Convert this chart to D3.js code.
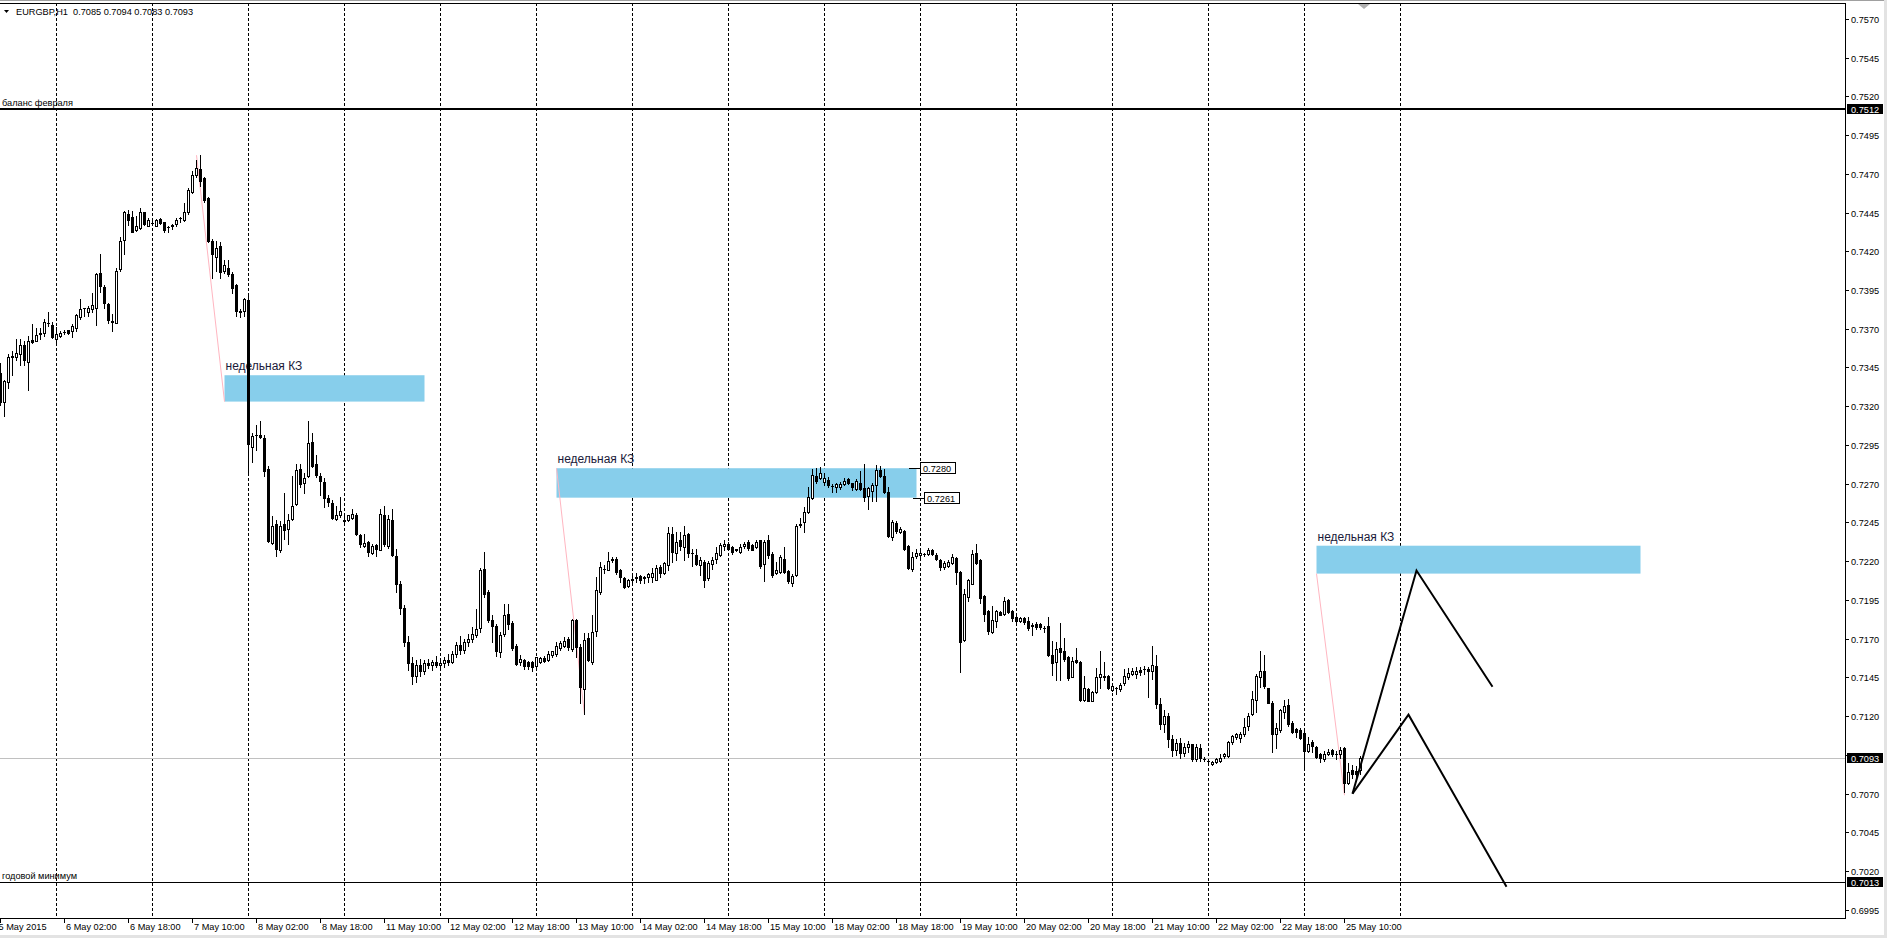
<!DOCTYPE html>
<html>
<head>
<meta charset="utf-8">
<script src="https://cdn.jsdelivr.net/npm/d3@7"></script>
<style>
  html, body { margin: 0; padding: 0; background: #fff; overflow: hidden; }
  svg { display: block; }
  text { font-family: "Liberation Sans", Arial, sans-serif; font-size: 9.2px; fill: #000; }
</style>
</head>
<body>
<svg id="chart" width="1887" height="938"></svg>
<script>
// ===============================
// data (EURGBP H1, 5 May 10:00 .. 25 May 14:00), price x 10000 : [open, high, low, close]
// ===============================
const ohlc = [
  [7341.5,7348,7321,7323],[7323,7337,7313.4,7336],[7335.4,7354,7331.8,7351.8],[7352,7355.5,7340.4,7352.5],
  [7352,7363.5,7350,7354.4],[7353.4,7363.5,7346.9,7359.8],[7359.2,7362,7346.9,7349.7],[7348.4,7365.2,7330.3,7362],
  [7363,7372.8,7360.9,7361.6],[7362.4,7370.6,7362,7365.7],[7366.8,7370.6,7363.5,7367.2],[7367.4,7376,7365.2,7374.3],
  [7374,7380.8,7371.7,7373.8],[7372.6,7374.3,7364.1,7364.8],[7363.5,7371,7361.3,7366.7],[7365.2,7368.5,7364.8,7367],
  [7367.6,7369.5,7366.3,7368],[7368.9,7369.5,7366.3,7367.2],[7368.5,7372.8,7364.8,7371.7],[7370.6,7379.3,7368.5,7378.6],
  [7377.7,7389,7376,7382.9],[7383.1,7383.6,7378.2,7383.5],[7381,7384.7,7378.2,7383.6],[7382.5,7392.9,7381,7385.3],
  [7383.6,7405.8,7372.1,7405.2],[7405.8,7418.1,7393.7,7397.6],[7397,7398,7383.6,7386.4],[7385.7,7386.8,7373.9,7375.6],
  [7374.5,7379.3,7368.5,7374.7],[7373.9,7409.5,7373.4,7407.3],[7408.4,7428.9,7407.3,7426.8],[7427.4,7446.2,7418.1,7445.1],
  [7444,7446.8,7436.9,7440.4],[7441.9,7446.2,7432.2,7432.6],[7433.9,7443,7433.2,7436],[7434.7,7447.7,7434.3,7445.5],
  [7445.1,7445.5,7436.9,7437.6],[7436.5,7441.2,7436,7440.1],[7438.2,7440.8,7436.9,7438.4],[7436.5,7440.8,7436,7440.1],
  [7440.8,7441.2,7437.3,7438],[7438.6,7439,7432.6,7433.9],[7435.4,7436.5,7432.6,7435.6],[7436.5,7437.6,7434.3,7436.7],
  [7437.6,7441.2,7436,7440.4],[7441.5,7441.9,7438.6,7441.7],[7440.4,7451.1,7439.7,7445.1],[7445.5,7460.6,7444,7459.8],
  [7458.5,7472.1,7457.6,7469.3],[7469.3,7479.2,7467.8,7473.6],[7473.2,7481.8,7462.4,7465.6],[7467.1,7467.8,7451.6,7453.3],
  [7454.2,7454.8,7425.7,7426.8],[7426.8,7427.9,7403,7418.1],[7416.6,7426.8,7407.3,7421.8],[7423.1,7425.7,7403,7406.7],
  [7407.3,7414.4,7406.2,7411],[7409.5,7414.4,7404.1,7405.2],[7405.2,7406.7,7392.9,7396.5],[7398,7398.7,7378.2,7381.4],
  [7381,7382.9,7377.7,7381.2],[7381.4,7390,7378.2,7389.4],[7388.5,7391.1,7276.7,7295.7],[7294,7302.6,7284.2,7300.9],
  [7301.3,7308,7291.8,7301.5],[7301.5,7310.2,7299.4,7300],[7299.4,7301.5,7275,7278.4],[7279.3,7281.4,7232.4,7233.1],
  [7231.8,7249.1,7230.9,7242.6],[7243.9,7246.5,7223.2,7228.1],[7227.5,7246,7226,7242.6],[7243.9,7264.2,7234.6,7240.4],
  [7241.1,7250.3,7231.4,7246.5],[7247.5,7275,7246.5,7255.5],[7256.8,7282.7,7256.2,7278.8],[7279.3,7282.7,7268.1,7269.8],
  [7270.2,7276.7,7263.8,7273.4],[7275,7310.2,7274.1,7296.5],[7297.2,7303,7280.6,7281.4],[7282.7,7288.6,7274.5,7275.6],
  [7275,7277.1,7262.7,7271.9],[7271.3,7273.4,7255.1,7260.5],[7261.1,7262.7,7255.5,7258.3],[7257.7,7259.4,7247.5,7248.2],
  [7247.5,7255.5,7246.9,7249.7],[7249.7,7261.6,7248.6,7252.5],[7246.5,7249.7,7245.4,7246.2],[7246.5,7250,7246,7249.7],
  [7248.2,7253.4,7247.5,7250.3],[7249.7,7250.8,7236.7,7237.4],[7236.7,7237.8,7229.2,7231.4],[7229.6,7237.4,7229.2,7231.8],
  [7232.4,7233.1,7223.2,7226],[7225.3,7230.9,7224.5,7229.6],[7230.3,7231.4,7223.2,7228.1],[7227.5,7254,7227,7250.3],
  [7249.7,7255.5,7229.6,7230.9],[7229.6,7249.7,7228.8,7247.5],[7246.5,7253.4,7223.2,7223.8],[7223.5,7228,7200,7205],
  [7205,7207,7186,7190],[7190,7192,7165,7168],[7168,7172,7150,7154],[7154,7158,7141,7146],
  [7146,7156,7142,7153],[7153,7157,7146,7149],[7149,7156,7147,7154],[7154,7157,7151,7153],
  [7153,7156,7150,7155],[7155,7159,7152,7153],[7153,7156,7150,7154],[7154,7158,7152,7156],
  [7156,7160,7153,7155],[7155,7162,7154,7160],[7160,7168,7158,7166],[7166,7172,7160,7163],
  [7163,7170,7161,7168],[7168,7173,7165,7170],[7169.9,7177.4,7167.7,7173.1],[7172.7,7189.3,7171,7176.4],
  [7177,7215.9,7174.2,7214.6],[7215.2,7226,7196.9,7199.1],[7200.1,7201.2,7180.7,7181.8],[7182.2,7185,7167.7,7178.5],
  [7178.5,7179.6,7159.1,7161.9],[7161.3,7174.2,7158.4,7172.7],[7173.1,7192.6,7172,7185.4],[7186.1,7192.1,7176.4,7179.6],
  [7180.2,7181.3,7162.8,7164.1],[7165.6,7166.7,7153.3,7153.7],[7154.8,7159.7,7153.3,7156.9],[7156.3,7156.9,7150.4,7152.6],
  [7154.8,7155.4,7150.4,7152.6],[7154.8,7155.4,7149.4,7152],[7152.6,7158.4,7149.8,7158],[7154.8,7158.4,7154.1,7157.5],
  [7157.6,7159.1,7154.8,7155.9],[7156.3,7161.9,7155.4,7160.2],[7159.7,7162.3,7158,7161.9],[7160.2,7167.7,7159.1,7165.6],
  [7164.1,7168.4,7162.8,7167.1],[7165.6,7171.4,7164.5,7168.4],[7169.9,7171,7162.8,7164.5],[7163.4,7182.8,7162.3,7182.2],
  [7181.8,7182.8,7158,7164.5],[7164.5,7166.7,7128.2,7139],[7137.5,7173.6,7121.3,7169.2],[7170.5,7173.6,7155.4,7156.3],
  [7154.8,7185,7153.7,7174.2],[7174.8,7209.8,7172,7201.6],[7200.1,7219.5,7199,7216.3],[7215.2,7217.4,7212.4,7215],
  [7214.6,7226,7214.1,7220.2],[7220.6,7222.8,7219.5,7221.7],[7221.7,7222.8,7212,7213.1],[7214.6,7215.2,7206.6,7209.8],
  [7209.4,7209.8,7202.9,7203.3],[7203.8,7208.7,7203.3,7208.1],[7208.1,7212,7206.6,7208.3],[7209.4,7212.4,7206.6,7209.6],
  [7210.3,7210.9,7205.9,7207.7],[7209.4,7210.3,7206,7209.6],[7209.8,7212.4,7206.6,7212],[7209.8,7215.9,7206.6,7212.4],
  [7208.1,7217.4,7207.7,7215.9],[7216.3,7217.4,7209.8,7212.4],[7212.4,7219.5,7212,7218.9],[7217.4,7242.2,7214.1,7238.3],
  [7237.5,7242.2,7219.5,7226],[7225.4,7239,7220.6,7232.5],[7233.6,7239,7227.1,7229.7],[7229.3,7242.6,7220.6,7236.8],
  [7237.5,7238.3,7222.8,7225.4],[7225,7228.2,7216.7,7225.2],[7223.9,7228.2,7217.4,7218.5],[7217.4,7222.8,7210.9,7220.6],
  [7219.5,7220.6,7203.3,7208.1],[7209.4,7220.2,7208.1,7218.9],[7218.5,7222.8,7215.2,7220.6],[7221.7,7229.2,7218.9,7225.4],
  [7223.8,7231.8,7223.2,7230.3],[7229.6,7233.9,7227.5,7231.4],[7231.4,7232.5,7227.1,7228.1],[7229.2,7229.6,7224.9,7226],
  [7227.5,7228.2,7226.8,7227.6],[7226,7231.4,7225.3,7229.2],[7229.6,7232.5,7228.8,7231.4],[7232.5,7233.5,7227.5,7228.8],
  [7230.3,7230.8,7227.1,7227.5],[7229.2,7233.5,7228.8,7232.5],[7233.5,7233.9,7215.8,7216.7],[7218.4,7233.5,7207.2,7232.5],
  [7233.5,7236.8,7222.3,7223.8],[7224.5,7226,7209.8,7210.9],[7212.4,7219.5,7211.5,7214.4],[7213,7223.8,7212.4,7222.7],
  [7221.7,7229.2,7212.4,7213],[7213.7,7214.5,7205.9,7207.2],[7205.9,7211.5,7203.7,7210.2],[7210.9,7244.3,7210.2,7242.6],
  [7243.3,7248.2,7242.2,7244.3],[7245.4,7255.1,7238.9,7251.9],[7251.9,7267.6,7251.2,7261.2],[7260.5,7279.3,7259.9,7275.6],
  [7275,7280,7270.7,7272],[7273.5,7280.6,7272.8,7277.1],[7271.3,7277.1,7269.2,7273.5],[7272.4,7274.1,7267.6,7269.2],
  [7268.5,7269.8,7264.8,7268.7],[7268.1,7270.2,7264.8,7269.8],[7268.1,7271,7266.5,7269.8],[7269.8,7273.5,7269.2,7272],
  [7272.8,7273.5,7269.5,7270.2],[7270.2,7270.7,7265.9,7267.6],[7266.4,7272.8,7265.9,7272],[7270.7,7278.4,7265.9,7266.4],
  [7267,7282.8,7259,7261.2],[7262,7268.1,7254,7267],[7265.5,7270.2,7259,7269.2],[7269.2,7282.1,7259,7278.9],
  [7278.9,7281.5,7274.1,7275],[7275,7279.3,7263.8,7264.8],[7264.8,7268.1,7235.7,7236.1],[7235.3,7246.5,7234,7245.4],
  [7244.8,7246,7238.3,7239.6],[7239,7242.2,7238.3,7241.1],[7239.6,7240.4,7227.5,7228.1],[7229.6,7230.3,7215.2,7215.8],
  [7215.2,7226,7213.7,7222.7],[7223.2,7228.1,7222.3,7225.3],[7223.8,7227.5,7222.7,7225.3],[7224.9,7225.5,7223.5,7224.7],
  [7224.9,7228.8,7223.8,7227.1],[7227.1,7228.1,7223.8,7224.5],[7223.8,7225.3,7221,7221.7],[7220.6,7221.7,7214.5,7216.3],
  [7216.3,7220.2,7215.2,7218.9],[7216.7,7220.5,7216,7219.5],[7218.9,7224.9,7218,7222.7],[7222.3,7222.7,7205.5,7213],
  [7213,7213.4,7148.3,7167.7],[7169.2,7202.2,7168.8,7198.6],[7196.8,7208.7,7194.2,7207.6],[7205.5,7227.1,7205,7224.5],
  [7225.3,7231.4,7218.4,7218.9],[7220.6,7221.7,7193,7196.4],[7197.3,7197.9,7181.3,7186],[7187.8,7188.2,7173.1,7174.8],
  [7174.2,7191.4,7173.5,7182.2],[7181.7,7188.2,7177.8,7187.8],[7187.1,7187.8,7185,7185.6],[7186,7196.8,7185.6,7194.2],
  [7195.1,7195.5,7186.5,7187.1],[7187.8,7188.6,7181.7,7183.5],[7183.9,7185,7180,7181.7],[7181.3,7184.3,7180.5,7183.5],
  [7183.5,7184.3,7179.6,7180.6],[7181.3,7183.9,7175.7,7177],[7178.5,7180,7172.7,7178.7],[7179.6,7180.7,7176.3,7177.8],
  [7179.6,7180.2,7176.3,7177.8],[7176.6,7178.2,7174.1,7176.8],[7178.5,7183.9,7159,7159.7],[7159.7,7168.8,7146.7,7154.1],
  [7154.7,7167.7,7143.3,7163.4],[7164,7180,7143.3,7161.2],[7162.3,7170.5,7155.8,7156.9],[7158.4,7159,7143.3,7144.6],
  [7145.5,7158.4,7145,7155.4],[7156.2,7164,7154.1,7154.7],[7154.7,7155.4,7129.9,7130.3],[7130.3,7146.1,7129.9,7138.1],
  [7137.5,7138.1,7129.5,7129.9],[7129.9,7136.4,7129.5,7135.3],[7135.9,7151,7134.7,7145.5],[7145.5,7161.9,7138.1,7147.2],
  [7145.5,7154.7,7143.3,7145.7],[7146.1,7146.7,7137.5,7138.1],[7136.8,7140.3,7136.4,7139.6],[7138.1,7139,7134.2,7138.3],
  [7137.5,7141.1,7136.4,7140.3],[7141.1,7150.4,7140.3,7146.1],[7145,7151,7144,7147.6],[7147.2,7151,7146.5,7148.9],
  [7147.2,7151.5,7144.6,7148.9],[7149.5,7151.5,7146.5,7148.6],[7150.4,7152.6,7147.2,7150.6],[7150.4,7151.5,7132.1,7148.9],
  [7149.3,7165.5,7144,7153.2],[7152.6,7159.5,7125,7128],[7128,7132,7112,7115],[7115,7124,7110,7120],
  [7120,7122,7100,7105],[7105,7108,7094,7098],[7098,7105,7095,7103],[7103,7106,7093,7096],
  [7096,7103,7094,7100],[7100,7104,7097,7102],[7101.8,7102.2,7091.4,7092.1],[7092.1,7101.8,7091.4,7100.1],
  [7099.7,7101.8,7091.4,7092.7],[7092.4,7093.5,7091,7092.1],[7091.2,7092.2,7089.8,7091],[7088.9,7091.4,7088.4,7090.6],
  [7090.6,7093.2,7089.9,7092.1],[7091,7095.8,7090.6,7093.2],[7094.3,7096.4,7093.2,7095.8],[7094.3,7104,7093.6,7103.5],
  [7103.5,7107.8,7102.2,7107.2],[7106.6,7109.4,7105.1,7108.7],[7106.1,7110,7103.5,7108.7],[7108.3,7119.1,7107.2,7113],
  [7113.7,7122.3,7110.9,7120.2],[7121.2,7136.4,7120.8,7131],[7130.3,7147.2,7123,7146.1],[7145,7161.8,7138.9,7149.3],
  [7148.9,7159.7,7138.5,7139.6],[7138.1,7138.5,7128.2,7128.8],[7128.8,7129.9,7097.1,7108.7],[7108.3,7115.8,7099.7,7112.6],
  [7110.9,7124.5,7110,7123.8],[7123,7130.3,7118.7,7126.6],[7127.3,7130.9,7113.7,7114.8],[7115.8,7116.9,7109.4,7110],
  [7111.5,7112.5,7106.6,7110],[7110.9,7112.6,7105.1,7105.7],[7109.4,7110.4,7086.7,7097.5],[7097.5,7106.6,7097.1,7102.2],
  [7103.5,7104.4,7097.1,7100.7],[7100.1,7100.7,7093.2,7093.6],[7095.8,7096.4,7090.6,7092.7],[7092.1,7097.5,7091.4,7095.8],
  [7095.8,7098.6,7094.9,7097.1],[7097.9,7098.6,7094.3,7095.3],[7095.3,7097.5,7092.1,7095.5],[7095.8,7100.1,7092.7,7097.9],
  [7099.7,7100.1,7071,7077],[7077,7090,7076.3,7084.1],[7085,7088.4,7080.2,7082.8],[7084.5,7087.8,7078,7082.4],
  [7085,7094,7083,7093]
];

// price axis labels (right side)
const priceTicks = ['0.7570','0.7545','0.7520','0.7495','0.7470','0.7445','0.7420','0.7395','0.7370','0.7345','0.7320','0.7295',
  '0.7270','0.7245','0.7220','0.7195','0.7170','0.7145','0.7120','0.7095','0.7070','0.7045','0.7020','0.6995'];

// time axis labels, one every 16 bars
const timeLabels = ['5 May 2015','6 May 02:00','6 May 18:00','7 May 10:00','8 May 02:00','8 May 18:00','11 May 10:00',
  '12 May 02:00','12 May 18:00','13 May 10:00','14 May 02:00','14 May 18:00','15 May 10:00','18 May 02:00','18 May 18:00',
  '19 May 10:00','20 May 02:00','20 May 18:00','21 May 10:00','22 May 02:00','22 May 18:00','25 May 10:00'];

// horizontal levels
const levels = [
  { price: 0.7512, name: 'баланс февраля', w: 2 },
  { price: 0.7013, name: 'годовой минимум', w: 1 },
];
const bidPrice = 0.7093;

// weekly zones: bar index from/to, price top/bottom
const zones = [
  { from: 56, to: 106, top: 0.7340, bottom: 0.7323, name: 'недельная КЗ' },
  { from: 139, to: 229, top: 0.7280, bottom: 0.7261, name: 'недельная КЗ' },
  { from: 329, to: 410, top: 0.7230, bottom: 0.7212, name: 'недельная КЗ' },
];
// pink trend lines [bar, price] -> [bar, price]
const pinkLines = [
  [[49, 0.7482], [56, 0.7323]],
  [[139, 0.7280], [146, 0.7121]],
  [[329, 0.7212], [336, 0.7069]],
];
// forecast zigzags
const zigzags = [
  [[338, 0.7070], [354, 0.7214], [373, 0.7139]],
  [[338, 0.7070], [352, 0.7121], [376.5, 0.7010]],
];
// price labels on zone 2
const priceTags = [
  { bar: 227, price: 0.7280, dx: 11 },
  { bar: 228, price: 0.7261, dx: 11 },
];

// ===============================
// layout
// ===============================
const W = 1887, H = 938;
const P = { right: 1845, top: 3, bottom: 918 };
const svg = d3.select('#chart');

const x = d3.scaleLinear().domain([0, 1]).range([0.5, 4.5]); // 4 px per bar
const y = d3.scaleLinear().domain([0.6995, 0.7570]).range([909.9, 18.8]);
const snap = (v) => Math.round(v);

svg.append('rect').attr('width', W).attr('height', H).attr('fill', '#fff');

const plot = svg.append('g');
plot.append('clipPath').attr('id', 'clip').append('rect')
  .attr('x', 0).attr('y', P.top).attr('width', P.right).attr('height', P.bottom - P.top);
const g = plot.append('g').attr('clip-path', 'url(#clip)');

// day separators (6 May 00:00 .. 26 May 00:00)
const seps = d3.range(14, 351, 24);
g.selectAll('line.sep').data(seps).join('line')
  .attr('class', 'sep')
  .attr('x1', (d) => x(d)).attr('x2', (d) => x(d))
  .attr('y1', P.top).attr('y2', P.bottom)
  .attr('stroke', '#000').attr('stroke-width', 1).attr('stroke-dasharray', '3,2');

// zones
g.selectAll('rect.zone').data(zones).join('rect')
  .attr('class', 'zone')
  .attr('x', (d) => x(d.from)).attr('width', (d) => x(d.to) - x(d.from))
  .attr('y', (d) => y(d.top)).attr('height', (d) => y(d.bottom) - y(d.top))
  .attr('fill', '#87ceeb');
g.selectAll('text.zone').data(zones).join('text')
  .attr('class', 'zone')
  .attr('x', (d) => x(d.from) + 1).attr('y', (d) => y(d.top) - 5)
  .style('font-size', '12px').style('fill', '#1a1a3a')
  .text((d) => d.name);

// levels
g.selectAll('line.level').data(levels).join('line')
  .attr('class', 'level')
  .attr('x1', 0).attr('x2', P.right)
  .attr('y1', (d) => snap(y(d.price)) + (d.w === 2 ? 0 : 0.5))
  .attr('y2', (d) => snap(y(d.price)) + (d.w === 2 ? 0 : 0.5))
  .attr('stroke', '#000').attr('stroke-width', (d) => d.w);
g.selectAll('text.level').data(levels).join('text')
  .attr('class', 'level')
  .attr('x', 2).attr('y', (d) => snap(y(d.price)) - 3)
  .text((d) => d.name);

// bid line
g.append('line')
  .attr('x1', 0).attr('x2', P.right)
  .attr('y1', snap(y(bidPrice)) + 0.5).attr('y2', snap(y(bidPrice)) + 0.5)
  .attr('stroke', '#c0c0c0');

// pink lines
const line = d3.line().x((d) => x(d[0])).y((d) => y(d[1]));
g.selectAll('path.pink').data(pinkLines).join('path')
  .attr('class', 'pink')
  .attr('d', line).attr('fill', 'none').attr('stroke', '#ffb6c1').attr('stroke-width', 1);

// candles
const bars = ohlc.map((d, i) => ({ i, o: d[0] / 1e4, h: d[1] / 1e4, l: d[2] / 1e4, c: d[3] / 1e4 }));
g.selectAll('line.wick').data(bars).join('line')
  .attr('class', 'wick')
  .attr('x1', (d) => x(d.i)).attr('x2', (d) => x(d.i))
  .attr('y1', (d) => snap(y(d.h))).attr('y2', (d) => snap(y(d.l)) + 1)
  .attr('stroke', '#000');
const bodies = bars.map((d) => {
  const t = snap(y(Math.max(d.o, d.c)));
  const b = snap(y(Math.min(d.o, d.c)));
  return { ...d, t, b, up: d.c >= d.o };
});
g.selectAll('rect.body').data(bodies.filter((d) => d.b - d.t >= 1)).join('rect')
  .attr('class', 'body')
  .attr('x', (d) => x(d.i) - 1).attr('width', 2)
  .attr('y', (d) => d.t + 0.5).attr('height', (d) => d.b - d.t)
  .attr('fill', (d) => (d.up ? '#fff' : '#000'))
  .attr('stroke', '#000');
g.selectAll('line.doji').data(bodies.filter((d) => d.b - d.t < 1)).join('line')
  .attr('class', 'doji')
  .attr('x1', (d) => x(d.i) - 1.5).attr('x2', (d) => x(d.i) + 1.5)
  .attr('y1', (d) => d.t + 0.5).attr('y2', (d) => d.t + 0.5)
  .attr('stroke', '#000');

// zigzags
g.selectAll('path.zz').data(zigzags).join('path')
  .attr('class', 'zz')
  .attr('d', line).attr('fill', 'none').attr('stroke', '#000').attr('stroke-width', 2)
  .attr('stroke-linejoin', 'miter');

// price tags on zone 2
const tags = g.selectAll('g.tag').data(priceTags).join('g').attr('class', 'tag')
  .attr('transform', (d) => `translate(${Math.round(x(d.bar))},${snap(y(d.price))})`);
tags.append('line').attr('x1', 0).attr('x2', (d) => d.dx).attr('y1', 0.5).attr('y2', 0.5).attr('stroke', '#000');
tags.append('rect').attr('x', (d) => d.dx + 0.5).attr('y', -5.5).attr('width', 35).attr('height', 11)
  .attr('fill', '#fff').attr('stroke', '#000');
tags.append('text').attr('x', (d) => d.dx + 3).attr('y', 4).text((d) => d.price.toFixed(4));

// chart shift marker
svg.append('path').attr('d', 'M1358,4 L1370,4 L1364,9 Z').attr('fill', '#b0b0b0');

// ===============================
// frame and axes
// ===============================
svg.append('line').attr('x1', 0).attr('x2', W).attr('y1', 0.5).attr('y2', 0.5).attr('stroke', '#a0a0a0');
svg.append('line').attr('x1', 0).attr('x2', P.right + 1).attr('y1', P.top + 0.5).attr('y2', P.top + 0.5).attr('stroke', '#000');
svg.append('line').attr('x1', P.right + 0.5).attr('x2', P.right + 0.5).attr('y1', P.top).attr('y2', P.bottom + 1).attr('stroke', '#000');
svg.append('line').attr('x1', 0).attr('x2', P.right + 1).attr('y1', P.bottom + 0.5).attr('y2', P.bottom + 0.5).attr('stroke', '#000');
svg.append('rect').attr('x', 1884).attr('y', 0).attr('width', 3).attr('height', H).attr('fill', '#e3e3e3');
svg.append('rect').attr('x', 0).attr('y', 935).attr('width', W).attr('height', 3).attr('fill', '#e3e3e3');

// right price axis
const yAxis = svg.append('g');
const pt = yAxis.selectAll('g').data(priceTicks).join('g')
  .attr('transform', (d) => `translate(${P.right},${snap(y(+d))})`);
pt.append('line').attr('x1', 0).attr('x2', 4).attr('y1', 0.5).attr('y2', 0.5).attr('stroke', '#000');
pt.append('text').attr('x', 6).attr('y', 4).text((d) => d);

// black price boxes
const boxes = [levels[0].price, bidPrice, levels[1].price];
const bx = yAxis.selectAll('g.box').data(boxes).join('g').attr('class', 'box')
  .attr('transform', (d) => `translate(${P.right + 2},${snap(y(d))})`);
bx.append('rect').attr('x', 0).attr('y', -5).attr('width', 36).attr('height', 10).attr('fill', '#000');
bx.append('text').attr('x', 4).attr('y', 4).style('fill', '#fff').text((d) => d.toFixed(4));

// time axis
const xt = svg.append('g').selectAll('g').data(timeLabels).join('g')
  .attr('transform', (d, k) => `translate(${x(k * 16)},${P.bottom})`);
xt.append('line').attr('x1', 0).attr('x2', 0).attr('y1', 0).attr('y2', 5).attr('stroke', '#000');
xt.append('text').attr('x', (d, k) => (k === 0 ? -2 : 1.5)).attr('y', 12).text((d) => d);

// header
const last = ohlc[ohlc.length - 1].map((v) => (v / 1e4).toFixed(4));
svg.append('path').attr('d', 'M4,10 L9,10 L6.5,13 Z').attr('fill', '#000');
svg.append('text').attr('x', 16).attr('y', 15)
  .text(`EURGBP,H1  ${last.join(' ')}`)
  .attr('xml:space', 'preserve').style('white-space', 'pre');
</script>
</body>
</html>
